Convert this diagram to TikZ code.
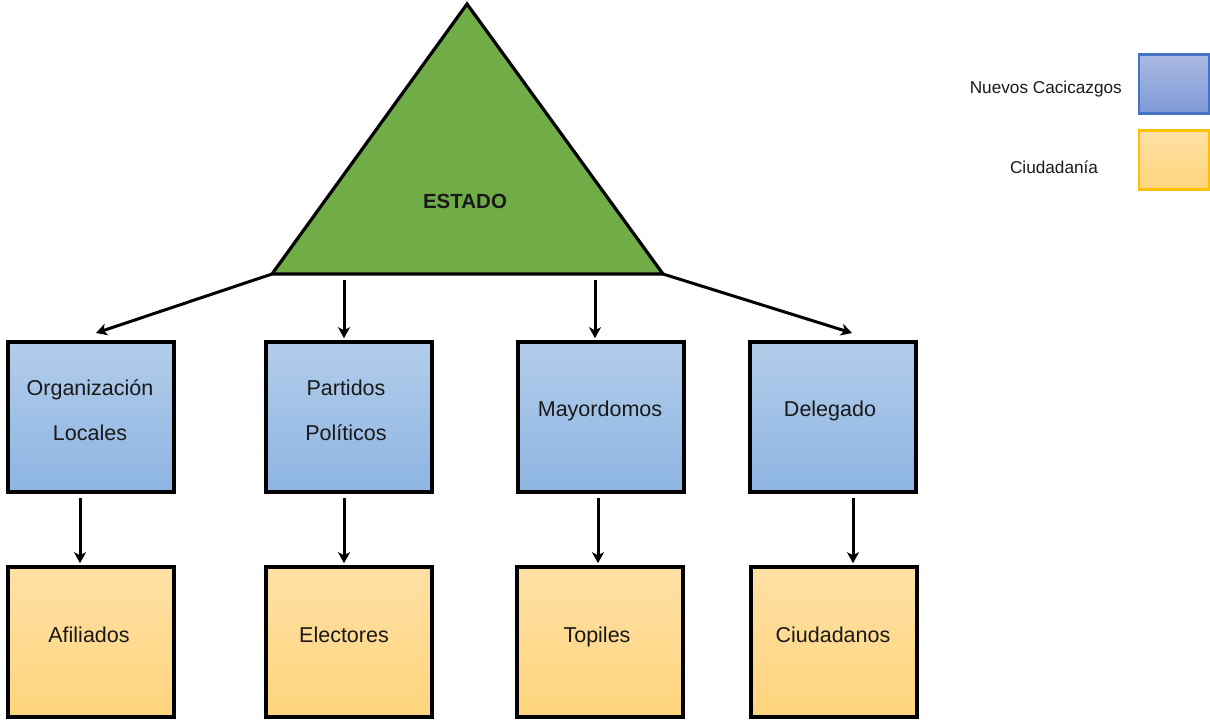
\documentclass[tikz,border=0pt]{standalone}
\usepackage{fontspec}
\setmainfont{Liberation Sans}
\usetikzlibrary{arrows.meta,calc}
\definecolor{trigreen}{HTML}{70AD47}
\definecolor{bluetop}{HTML}{B2CDEA}
\definecolor{bluebot}{HTML}{8DB4E2}
\definecolor{orgtop}{HTML}{FFE0A5}
\definecolor{orgbot}{HTML}{FFD47C}
\definecolor{legbluetop}{HTML}{AAB9E2}
\definecolor{legbluebot}{HTML}{7F9AD8}
\definecolor{legblueline}{HTML}{4472C4}
\definecolor{leggoldline}{HTML}{FFC000}
\tikzset{
  box/.style={draw=black, line width=3.6pt, minimum width=166pt, minimum height=150pt, inner sep=0pt},
  bluebox/.style={box, top color=bluetop, bottom color=bluebot},
  orgbox/.style={box, top color=orgtop, bottom color=orgbot},
  txt/.style={font=\fontsize{21.5}{45}\selectfont, align=center, text=black!90, inner sep=0pt},
  legtxt/.style={font=\fontsize{17.2}{20}\selectfont, text=black!90, inner sep=0pt},
  arr/.style={line width=3pt, -{Stealth[length=11pt,width=12pt,inset=3pt]}},
  legbox/.style={line width=2.2pt, minimum width=70pt, minimum height=59pt, inner sep=0pt},
}
\begin{document}
\begin{tikzpicture}[x=1pt,y=-1pt]
\useasboundingbox (0,0) rectangle (1210,721);
% triangle
\coordinate (apex) at (467,4);
\coordinate (tl) at (272,274);
\coordinate (tr) at (663,274);
\draw[line width=3.2pt, fill=trigreen, line join=miter] (apex) -- (tr) -- (tl) -- cycle;
\node[font=\bfseries\fontsize{20.5}{22}\selectfont, text=black!90, anchor=base] (estado) at (465,208) {ESTADO};
% top row boxes
\node[bluebox] (b1) at (91,417) {};
\node[bluebox] (b2) at (349,417) {};
\node[bluebox] (b3) at (601,417) {};
\node[bluebox] (b4) at (833,417) {};
\node[txt] (t1) at (90,410) {Organización\\Locales};
\node[txt] (t2) at (346,410) {Partidos\\Políticos};
\node[txt, anchor=base] (t3) at (600,416) {Mayordomos};
\node[txt, anchor=base] (t4) at (830,416) {Delegado};
% bottom row boxes
\node[orgbox] (c1) at (91,642) {};
\node[orgbox] (c2) at (349,642) {};
\node[orgbox] (c3) at (600,642) {};
\node[orgbox] (c4) at (834,642) {};
\node[txt, anchor=base] (u1) at (89,642) {Afiliados};
\node[txt, anchor=base] (u2) at (344,642) {Electores};
\node[txt, anchor=base] (u3) at (597,642) {Topiles};
\node[txt, anchor=base] (u4) at (833,642) {Ciudadanos};
% arrows from triangle
\coordinate (e1) at (96,333);
\coordinate (e4) at (852,333);
\draw[arr] (tl) -- (e1);
\draw[arr] ($(tl)+(72,6)$) -- ($(b2.north -| 344,0)+(0,-2)$);
\draw[arr] ($(tl)+(323,6)$) -- ($(b3.north -| 595,0)+(0,-2)$);
\draw[arr] (tr) -- (e4);
% arrows between rows
\draw[arr] ($(b1.south -| 80,0)+(0,4)$) -- ($(c1.north -| 80,0)+(0,-2)$);
\draw[arr] ($(b2.south -| 344,0)+(0,4)$) -- ($(c2.north -| 344,0)+(0,-2)$);
\draw[arr] ($(b3.south -| 598,0)+(0,4)$) -- ($(c3.north -| 598,0)+(0,-2)$);
\draw[arr] ($(b4.south -| 853,0)+(0,4)$) -- ($(c4.north -| 853,0)+(0,-2)$);
% legend
\node[legbox, draw=legblueline, top color=legbluetop, bottom color=legbluebot] (lb) at (1174,84) {};
\node[legbox, draw=leggoldline, top color=orgtop, bottom color=orgbot] (lo) at (1174,160) {};
\node[legtxt, anchor=east] (lbt) at (1122,89) {Nuevos Cacicazgos};
\node[legtxt] (lot) at (1054,167) {Ciudadanía};
\end{tikzpicture}
\end{document}
